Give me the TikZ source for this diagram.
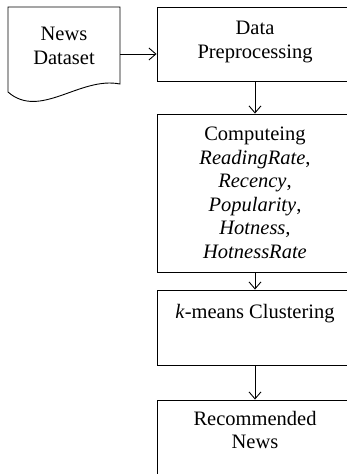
\documentclass[tikz,border=0pt]{standalone}
\usepackage{fontspec}
\setmainfont{Liberation Serif}
\usetikzlibrary{arrows.meta}
\begin{document}
\begin{tikzpicture}[x=1pt,y=-1pt,
  box/.style={draw, line width=0.9pt, inner sep=0pt},
  lbl/.style={align=center, inner sep=0pt, font=\fontsize{20.5}{23.5}\selectfont},
  arr/.style={draw, line width=0.9pt, -{Straight Barb[length=7pt,width=12pt,line width=0.9pt]}}]
\useasboundingbox (0,0) rectangle (347,474);
\clip (0,0) rectangle (347,474);
% document shape
\draw[line width=0.9pt] (8,7) -- (120,7) -- (120,84) .. controls (80,76) and (40,120) .. (8,92) -- cycle;
\node[inner sep=0pt, minimum width=112pt, minimum height=78pt] (doc) at (64,46) {};
\node[lbl] (doct) at (64,46) {News\\Dataset};
% boxes
\node[box, minimum width=196pt, minimum height=74pt] (pre) at (255,44) {};
\node[lbl] (pret) at (255,42) {Data\\Preprocessing};
\node[box, minimum width=196pt, minimum height=158pt] (comp) at (255,193) {};
\node[lbl] (compt) at (255,193) {Computeing\\\textit{ReadingRate},\\\textit{Recency},\\\textit{Popularity},\\\textit{Hotness,}\\\textit{HotnessRate}};
\node[box, minimum width=196pt, minimum height=75pt] (km) at (255,327.5) {};
\node[lbl, anchor=base] (kmt) at (255,318) {\textit{k}-means Clustering};
\node[box, minimum width=196pt, minimum height=100pt] (rec) at (255,450) {};
\node[lbl] (rect) at (255,430) {Recommended\\News};
% arrows
\draw[arr] (doc.east |- 0,54) -- (pre.west |- 0,54);
\draw[arr] (pre.south) -- (comp.north);
\draw[arr] (comp.south) -- (km.north);
\draw[arr] (km.south) -- (rec.north);
\end{tikzpicture}
\end{document}
